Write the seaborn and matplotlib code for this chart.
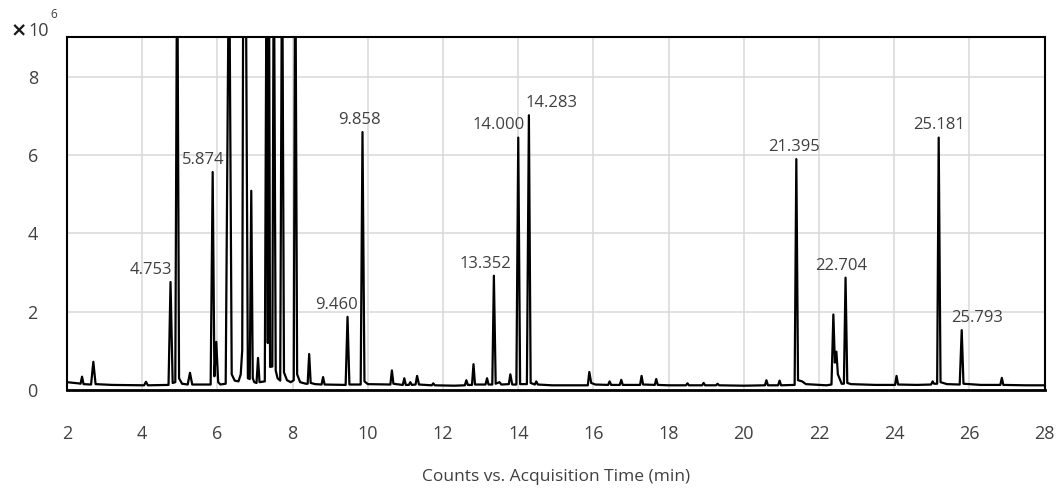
import matplotlib
matplotlib.use("Agg")
import pandas as pd
import matplotlib.pyplot as plt
import seaborn as sns

# chromatogram trace: retention time (min) and counts (x 10^6)
# off-scale peaks are given 12.0 and get clipped by the axis
rt = [2.00, 2.30, 2.36, 2.40, 2.44, 2.64, 2.70, 2.76, 3.20, 4.05, 4.10, 4.15,
      4.70, 4.753, 4.81, 4.88, 4.93, 4.98, 5.06, 5.21, 5.27, 5.33,
      5.82, 5.874, 5.92, 5.97, 6.02, 6.08, 6.22, 6.31, 6.38, 6.46, 6.56, 6.62,
      6.66, 6.69, 6.75, 6.81, 6.86, 6.90, 6.94, 6.98, 7.04, 7.08, 7.12,
      7.26, 7.31, 7.34, 7.37, 7.40, 7.46, 7.50, 7.55, 7.60, 7.67, 7.72, 7.77,
      7.85, 7.95, 8.03, 8.07, 8.12, 8.20, 8.35,
      8.40, 8.44, 8.48, 8.60, 8.77, 8.81, 8.85, 9.41, 9.46, 9.51, 9.81, 9.858,
      9.91, 10.00,
      10.60, 10.64, 10.68, 10.75, 10.93, 10.97, 11.01, 11.09, 11.13, 11.17,
      11.27, 11.31, 11.36, 11.70, 11.74, 11.78, 12.30, 12.58, 12.62, 12.66,
      12.77, 12.81, 12.85, 13.13, 13.17, 13.21, 13.31, 13.352, 13.40, 13.50,
      13.55, 13.75, 13.79, 13.84, 13.95, 14.00, 14.05, 14.23, 14.283, 14.33,
      14.44, 14.48, 14.52,
      14.90, 15.50, 15.85, 15.89, 15.94, 16.05, 16.39, 16.43, 16.47, 16.70,
      16.74, 16.78, 17.24, 17.28, 17.32, 17.63, 17.67, 17.71, 18.00, 18.46,
      18.50, 18.54, 18.89, 18.93, 18.97, 19.26, 19.30, 19.34, 20.00, 20.56,
      20.60, 20.64, 20.91, 20.95, 20.99,
      21.35, 21.395, 21.44, 21.55, 21.65, 22.00, 22.20, 22.33, 22.38, 22.42,
      22.46, 22.50, 22.60, 22.66, 22.704, 22.75, 22.85, 23.50, 24.02, 24.06,
      24.10, 24.60, 24.98, 25.02, 25.06, 25.14, 25.181, 25.23, 25.40, 25.74,
      25.793, 25.84, 26.30, 26.82, 26.86, 26.90, 27.50, 28.00]
counts = [0.20, 0.17, 0.16, 0.34, 0.15, 0.14, 0.72, 0.15, 0.13, 0.12, 0.21, 0.12,
          0.13, 2.76, 0.18, 0.20, 12.0, 0.30, 0.16, 0.14, 0.44, 0.14,
          0.14, 5.57, 0.35, 1.23, 0.20, 0.14, 0.16, 12.0, 0.40, 0.24, 0.22, 0.40,
          1.02, 12.0, 12.0, 0.30, 0.28, 5.09, 0.30, 0.20, 0.18, 0.82, 0.20,
          0.22, 12.0, 1.20, 12.0, 0.59, 0.60, 12.0, 0.50, 0.30, 0.24, 12.0, 0.45,
          0.25, 0.20, 0.25, 12.0, 0.40, 0.20, 0.16,
          0.16, 0.92, 0.18, 0.15, 0.14, 0.33, 0.14, 0.13, 1.87, 0.14, 0.14, 6.59,
          0.22, 0.15,
          0.14, 0.50, 0.16, 0.15, 0.13, 0.30, 0.13, 0.13, 0.20, 0.13,
          0.14, 0.36, 0.14, 0.12, 0.17, 0.12, 0.11, 0.12, 0.25, 0.13,
          0.13, 0.66, 0.14, 0.14, 0.30, 0.14, 0.14, 2.92, 0.16, 0.20,
          0.14, 0.15, 0.40, 0.14, 0.14, 6.45, 0.15, 0.15, 7.02, 0.18,
          0.14, 0.22, 0.14,
          0.12, 0.12, 0.12, 0.46, 0.18, 0.14, 0.13, 0.22, 0.13, 0.13,
          0.26, 0.13, 0.13, 0.36, 0.14, 0.13, 0.28, 0.13, 0.12, 0.12,
          0.17, 0.12, 0.12, 0.18, 0.12, 0.12, 0.16, 0.12, 0.11, 0.12,
          0.25, 0.12, 0.12, 0.24, 0.12,
          0.13, 5.90, 0.25, 0.22, 0.15, 0.13, 0.12, 0.14, 1.93, 0.70,
          0.98, 0.40, 0.16, 0.16, 2.87, 0.18, 0.15, 0.13, 0.13, 0.36,
          0.14, 0.13, 0.14, 0.22, 0.16, 0.16, 6.45, 0.20, 0.15, 0.14,
          1.53, 0.16, 0.13, 0.13, 0.31, 0.13, 0.12, 0.12]

# labelled peaks
label_text = ["4.753", "5.874", "9.460", "9.858", "13.352", "14.000",
              "14.283", "21.395", "22.704", "25.181", "25.793"]
label_rt = [4.753, 5.874, 9.460, 9.858, 13.352, 14.000,
            14.283, 21.395, 22.704, 25.181, 25.793]
label_counts = [2.76, 5.57, 1.87, 6.59, 2.92, 6.45,
                7.02, 5.90, 2.87, 6.45, 1.53]
# horizontal nudge of each label (points)
label_dx = [-14, -7, -8, -2, -6, -14, 16, -2, -3, 0, 11]

df = pd.DataFrame({"rt": rt, "counts": counts})

sns.set_theme(style="whitegrid")
plt.rcParams['font.family'] = ['Open Sans', 'DejaVu Sans']

fig = plt.figure(figsize=(10.62, 4.95), dpi=100)
ax = fig.add_axes([67 / 1062, 1 - 390 / 495, 977.7 / 1062, 353 / 495])

sns.lineplot(data=df, x="rt", y="counts", sort=False, estimator=None,
             color="black", linewidth=1.6, ax=ax)

for txt, x, y, dx in zip(label_text, label_rt, label_counts, label_dx):
    ax.annotate(txt, (x, y), xytext=(dx, 3), textcoords="offset points",
                ha="center", va="bottom", fontsize=12, color="#404040")

ax.set_xlim(2, 28)
ax.set_ylim(0, 9.02)
ax.set_xticks(range(2, 29, 2))
ax.set_yticks([0, 2, 4, 6, 8])
ax.set_facecolor("white")
ax.grid(True, color="#d9d9d9", linewidth=1.1)
ax.tick_params(axis="x", length=0, pad=25, labelsize=13, labelcolor="#404040")
ax.tick_params(axis="y", length=0, pad=21, labelsize=13, labelcolor="#404040")
for s in ax.spines.values():
    s.set_color("black")
    s.set_linewidth(1.5)
ax.spines["bottom"].set_linewidth(2)

ax.set_xlabel("Counts vs. Acquisition Time (min)", fontsize=12.5,
              color="#404040", labelpad=19)
ax.set_ylabel("")

# axis multiplier in the top-left corner
fig.text(0.010, 0.937, "\u00d7", fontsize=14, fontweight="bold",
         family="DejaVu Sans", color="#1a1a1a", va="center")
fig.text(0.027, 0.937, "10", fontsize=13, color="#404040", va="center")
fig.text(0.047, 0.970, "6", fontsize=8.5, color="#404040", va="center")

fig.savefig("out.png", dpi=100)
